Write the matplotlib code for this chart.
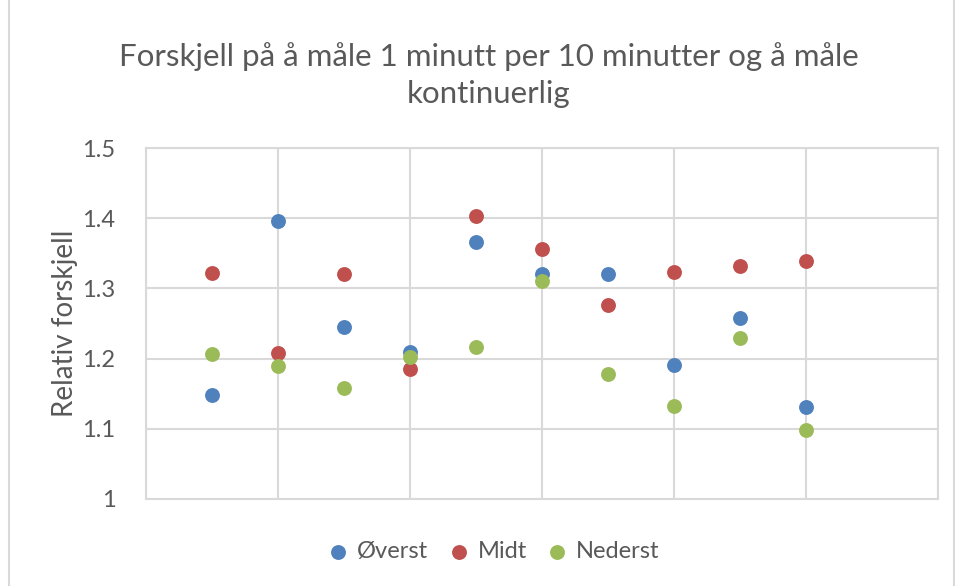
import matplotlib
matplotlib.use("Agg")
import matplotlib.pyplot as plt
from matplotlib.patches import Rectangle

plt.rc('font', family=['Lato', 'DejaVu Sans'])

x = [1, 2, 3, 4, 5, 6, 7, 8, 9, 10]
overst = [1.148, 1.396, 1.245, 1.209, 1.366, 1.320, 1.320, 1.191, 1.258, 1.131]
midt = [1.322, 1.208, 1.320, 1.185, 1.403, 1.356, 1.276, 1.323, 1.332, 1.339]
nederst = [1.207, 1.189, 1.158, 1.202, 1.217, 1.311, 1.178, 1.132, 1.229, 1.098]
series_names = ["Øverst", "Midt", "Nederst"]
colors = ["#4F81BD", "#C0504D", "#9BBB59"]
yticks = [1.0, 1.1, 1.2, 1.3, 1.4, 1.5]
ytick_labels = ["1", "1.1", "1.2", "1.3", "1.4", "1.5"]

txt = "#595959"
grid = "#D9D9D9"

fig = plt.figure(figsize=(9.55, 5.86), dpi=100)
fig.patches.append(Rectangle((0.009, -0.01), 0.99, 1.02, transform=fig.transFigure,
                             fill=False, edgecolor=grid, lw=1.5))
ax = fig.add_axes([0.1529, 0.1485, 0.8293, 0.5989])

for vals, name, c in zip([overst, midt, nederst], series_names, colors):
    ax.scatter(x, vals, s=115, color=c, label=name, zorder=3, linewidths=0)

ax.set_xlim(0, 12)
ax.set_ylim(1.0, 1.5)
ax.set_xticks([0, 2, 4, 6, 8, 10, 12])
ax.set_yticks(yticks)
ax.set_yticklabels(ytick_labels)
ax.tick_params(axis='x', length=0, labelbottom=False)
ax.tick_params(axis='y', length=0, labelsize=17, colors=txt, pad=22)
ax.grid(True, color=grid, lw=1.5)
ax.set_axisbelow(True)
for s in ax.spines.values():
    s.set_color(grid)
    s.set_linewidth(1.5)

ax.set_ylabel("Relativ forskjell", fontsize=20, color=txt, labelpad=3)

fig.text(0.512, 0.872, "Forskjell på å måle 1 minutt per 10 minutter og å måle\nkontinuerlig",
         ha='center', va='center', fontsize=22.5, color=txt, linespacing=1.4)

leg = ax.legend(loc='center', bbox_to_anchor=(0.438, -0.151), ncol=3, frameon=False,
                fontsize=17, handlelength=1.0, handletextpad=0.3, columnspacing=0.8,
                markerscale=1, labelcolor=txt)

fig.savefig("out.png", dpi=100)
